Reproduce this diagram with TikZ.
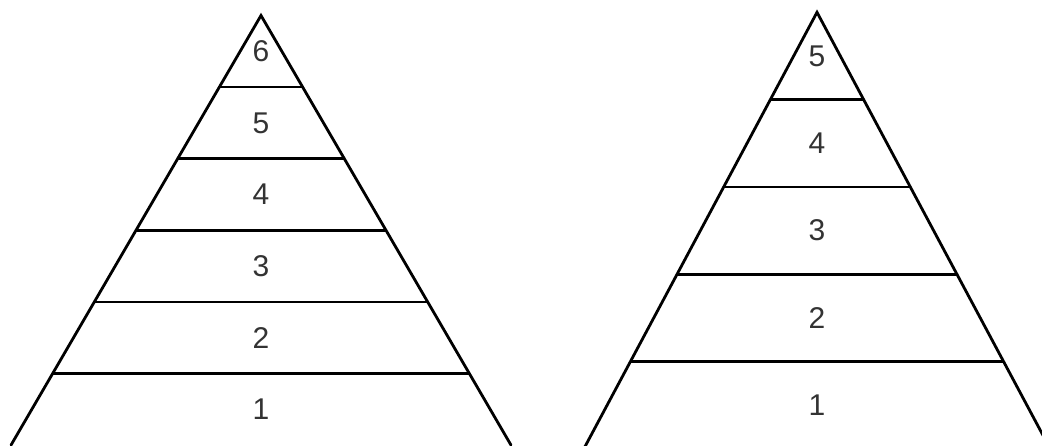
\documentclass[tikz,border=0pt]{standalone}
\usepackage{fontspec}
\setmainfont{Liberation Sans}
\usetikzlibrary{calc}
\begin{document}
\begin{tikzpicture}[x=1pt,y=-1pt,
  edge/.style={line width=2.8pt,line cap=round,line join=miter},
  tier/.style={line width=2.8pt},
  lab/.style={font=\fontsize{30}{30}\selectfont,text=black!80,inner sep=0pt}]
\useasboundingbox (0,0) rectangle (1042,445);
\clip (0,0) rectangle (1042,445);
\fill[white] (0,0) rectangle (1042,445);
% left pyramid (6 tiers)
\coordinate (LA) at (261,15.5);
\coordinate (LL) at (11,445.1);
\coordinate (LR) at (511,445.1);
\draw[edge] (LL) -- (LA) -- (LR);
\foreach \k in {1,...,5}{
  \draw[tier] ($(LA)!\k/6!(LL)$) coordinate (LTl\k) -- ($(LA)!\k/6!(LR)$) coordinate (LTr\k);
}
\foreach \k/\t in {0/6,1/5,2/4,3/3,4/2,5/1}{
  \node[lab] (Lt\t) at ($(LA)!{(\k+0.5)/6}!(LL)!0.5!($(LA)!{(\k+0.5)/6}!(LR)$)$) {\t};
}
% right pyramid (5 tiers)
\coordinate (RA) at (817,12.3);
\coordinate (RL) at (583.7,449);
\coordinate (RR) at (1050.3,449);
\draw[edge] (RL) -- (RA) -- (RR);
\foreach \k in {1,...,4}{
  \draw[tier] ($(RA)!\k/5!(RL)$) coordinate (RTl\k) -- ($(RA)!\k/5!(RR)$) coordinate (RTr\k);
}
\foreach \k/\t in {0/5,1/4,2/3,3/2,4/1}{
  \node[lab] (Rt\t) at ($(RA)!{(\k+0.5)/5}!(RL)!0.5!($(RA)!{(\k+0.5)/5}!(RR)$)$) {\t};
}
\end{tikzpicture}
\end{document}
